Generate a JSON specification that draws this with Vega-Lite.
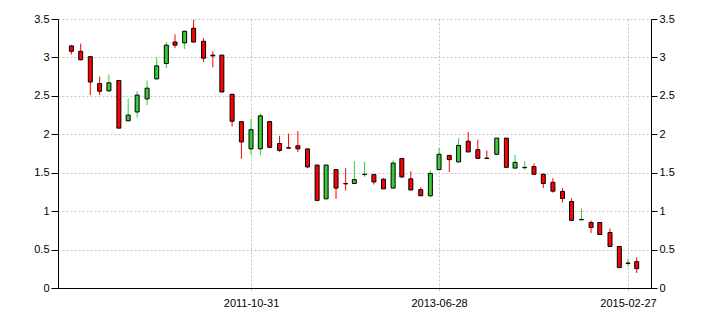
{
  "$schema": "https://vega.github.io/schema/vega-lite/v6.json",
  "width": 593,
  "height": 269,
  "autosize": {"type": "none"},
  "padding": {"left": 58, "top": 19, "right": 59, "bottom": 37},
  "background": "white",
  "config": {
    "view": {"stroke": null},
    "font": "Liberation Sans",
    "axis": {
      "labelFont": "Liberation Sans",
      "labelFontSize": 11,
      "labelColor": "#000",
      "domainColor": "#000",
      "domainWidth": 1,
      "tickColor": "#000",
      "tickWidth": 1,
      "gridColor": "#c4c4c4",
      "gridDash": [2, 2],
      "gridWidth": 1,
      "title": null
    }
  },
  "data": {
    "values": [
      {"date": "2010-03-31", "open": 3.15, "high": 3.16, "low": 3.04, "close": 3.08},
      {"date": "2010-04-30", "open": 3.08, "high": 3.18, "low": 2.96, "close": 2.97},
      {"date": "2010-05-31", "open": 3.01, "high": 3.01, "low": 2.51, "close": 2.68},
      {"date": "2010-06-30", "open": 2.66, "high": 2.75, "low": 2.51, "close": 2.56},
      {"date": "2010-07-30", "open": 2.565, "high": 2.78, "low": 2.55, "close": 2.67},
      {"date": "2010-08-31", "open": 2.70, "high": 2.70, "low": 2.08, "close": 2.08},
      {"date": "2010-09-30", "open": 2.175, "high": 2.465, "low": 2.175, "close": 2.25},
      {"date": "2010-10-29", "open": 2.29, "high": 2.56, "low": 2.22, "close": 2.51},
      {"date": "2010-11-30", "open": 2.46, "high": 2.70, "low": 2.38, "close": 2.60},
      {"date": "2010-12-31", "open": 2.72, "high": 3.0, "low": 2.72, "close": 2.89},
      {"date": "2011-01-31", "open": 2.92, "high": 3.20, "low": 2.86, "close": 3.16},
      {"date": "2011-02-28", "open": 3.20, "high": 3.30, "low": 3.12, "close": 3.16},
      {"date": "2011-03-31", "open": 3.19, "high": 3.35, "low": 3.11, "close": 3.34},
      {"date": "2011-04-29", "open": 3.38, "high": 3.49, "low": 3.20, "close": 3.20},
      {"date": "2011-05-31", "open": 3.21, "high": 3.25, "low": 2.94, "close": 2.99},
      {"date": "2011-06-30", "open": 3.03, "high": 3.08, "low": 2.87, "close": 3.02},
      {"date": "2011-07-29", "open": 3.03, "high": 3.03, "low": 2.55, "close": 2.55},
      {"date": "2011-08-31", "open": 2.52, "high": 2.52, "low": 2.10, "close": 2.17},
      {"date": "2011-09-30", "open": 2.165, "high": 2.165, "low": 1.68, "close": 1.90},
      {"date": "2011-10-31", "open": 1.81, "high": 2.20, "low": 1.73, "close": 2.06},
      {"date": "2011-11-30", "open": 1.81, "high": 2.27, "low": 1.73, "close": 2.24},
      {"date": "2011-12-30", "open": 2.165, "high": 2.165, "low": 1.826, "close": 1.83},
      {"date": "2012-01-31", "open": 1.88, "high": 1.98, "low": 1.77, "close": 1.79},
      {"date": "2012-02-29", "open": 1.825, "high": 2.01, "low": 1.82, "close": 1.82},
      {"date": "2012-03-30", "open": 1.85, "high": 2.04, "low": 1.77, "close": 1.81},
      {"date": "2012-04-30", "open": 1.81, "high": 1.81, "low": 1.56, "close": 1.575},
      {"date": "2012-05-31", "open": 1.60, "high": 1.60, "low": 1.14, "close": 1.14},
      {"date": "2012-06-29", "open": 1.16, "high": 1.60, "low": 1.16, "close": 1.60},
      {"date": "2012-07-31", "open": 1.54, "high": 1.54, "low": 1.16, "close": 1.30},
      {"date": "2012-08-31", "open": 1.36, "high": 1.56, "low": 1.27, "close": 1.355},
      {"date": "2012-09-28", "open": 1.36, "high": 1.65, "low": 1.36, "close": 1.41},
      {"date": "2012-10-31", "open": 1.475, "high": 1.64, "low": 1.445, "close": 1.48},
      {"date": "2012-11-30", "open": 1.475, "high": 1.475, "low": 1.345, "close": 1.38},
      {"date": "2012-12-31", "open": 1.415, "high": 1.43, "low": 1.29, "close": 1.29},
      {"date": "2013-01-31", "open": 1.30, "high": 1.66, "low": 1.30, "close": 1.625},
      {"date": "2013-02-28", "open": 1.685, "high": 1.685, "low": 1.43, "close": 1.445},
      {"date": "2013-03-29", "open": 1.42, "high": 1.52, "low": 1.275, "close": 1.275},
      {"date": "2013-04-30", "open": 1.28, "high": 1.31, "low": 1.197, "close": 1.20},
      {"date": "2013-05-31", "open": 1.20, "high": 1.53, "low": 1.18, "close": 1.49},
      {"date": "2013-06-28", "open": 1.54, "high": 1.82, "low": 1.54, "close": 1.74},
      {"date": "2013-07-31", "open": 1.725, "high": 1.725, "low": 1.51, "close": 1.67},
      {"date": "2013-08-30", "open": 1.64, "high": 1.95, "low": 1.64, "close": 1.855},
      {"date": "2013-09-30", "open": 1.91, "high": 2.03, "low": 1.77, "close": 1.77},
      {"date": "2013-10-31", "open": 1.80, "high": 1.93, "low": 1.685, "close": 1.686},
      {"date": "2013-11-29", "open": 1.69, "high": 1.79, "low": 1.68, "close": 1.685},
      {"date": "2013-12-31", "open": 1.74, "high": 1.95, "low": 1.74, "close": 1.95},
      {"date": "2014-01-31", "open": 1.95, "high": 1.95, "low": 1.57, "close": 1.57},
      {"date": "2014-02-28", "open": 1.56, "high": 1.73, "low": 1.557, "close": 1.635},
      {"date": "2014-03-31", "open": 1.565, "high": 1.65, "low": 1.54, "close": 1.57},
      {"date": "2014-04-30", "open": 1.58, "high": 1.62, "low": 1.48, "close": 1.48},
      {"date": "2014-05-30", "open": 1.48, "high": 1.48, "low": 1.30, "close": 1.36},
      {"date": "2014-06-30", "open": 1.375, "high": 1.43, "low": 1.24, "close": 1.26},
      {"date": "2014-07-31", "open": 1.257, "high": 1.30, "low": 1.11, "close": 1.165},
      {"date": "2014-08-29", "open": 1.126, "high": 1.165, "low": 0.878, "close": 0.88},
      {"date": "2014-09-30", "open": 0.888, "high": 1.035, "low": 0.878, "close": 0.892},
      {"date": "2014-10-31", "open": 0.852, "high": 0.878, "low": 0.717, "close": 0.787},
      {"date": "2014-11-28", "open": 0.852, "high": 0.852, "low": 0.696, "close": 0.696},
      {"date": "2014-12-31", "open": 0.722, "high": 0.774, "low": 0.539, "close": 0.54},
      {"date": "2015-01-30", "open": 0.54, "high": 0.54, "low": 0.265, "close": 0.265},
      {"date": "2015-02-27", "open": 0.32, "high": 0.38, "low": 0.28, "close": 0.325},
      {"date": "2015-03-27", "open": 0.343, "high": 0.40, "low": 0.196, "close": 0.252}
    ]
  },
  "layer": [
    {
      "mark": {"type": "rule", "strokeWidth": 1},
      "encoding": {
        "x": {
          "field": "date",
          "type": "temporal",
          "scale": {
            "type": "utc",
            "domain": [
              {"year": 2010, "month": 3, "date": 4, "utc": true},
              {"year": 2015, "month": 4, "date": 26, "utc": true}
            ]
          },
          "axis": {
            "orient": "bottom",
            "values": [
              {"year": 2011, "month": 10, "date": 31, "utc": true},
              {"year": 2013, "month": 6, "date": 28, "utc": true},
              {"year": 2015, "month": 2, "date": 27, "utc": true}
            ],
            "labelExpr": "utcFormat(datum.value, '%Y-%m-%d')",
            "grid": true,
            "tickSize": 4,
            "tickColor": "#b0b0b0",
            "tickDash": [2, 2],
            "labelPadding": 5,
            "labelFlush": false
          }
        },
        "y": {
          "field": "low",
          "type": "quantitative",
          "scale": {"domain": [0, 3.5], "nice": false, "zero": false},
          "axis": {
            "orient": "left",
            "values": [0, 0.5, 1, 1.5, 2, 2.5, 3, 3.5],
            "format": "~g",
            "grid": true,
            "tickSize": 7,
            "labelPadding": 2
          }
        },
        "y2": {"field": "high"},
        "color": {
          "condition": {"test": "datum.close >= datum.open", "value": "#32cd32"},
          "value": "#ff0000"
        }
      }
    },
    {
      "mark": {"type": "bar", "size": 4, "stroke": "#000", "strokeWidth": 1},
      "encoding": {
        "x": {"field": "date", "type": "temporal"},
        "y": {
          "field": "open",
          "type": "quantitative",
          "axis": {
            "orient": "right",
            "values": [0, 0.5, 1, 1.5, 2, 2.5, 3, 3.5],
            "format": "~g",
            "grid": false,
            "tickSize": 6,
            "labelPadding": 2
          }
        },
        "y2": {"field": "close"},
        "fill": {
          "condition": {"test": "datum.close >= datum.open", "value": "#32cd32"},
          "value": "#ff0000"
        }
      }
    }
  ],
  "resolve": {"axis": {"y": "independent"}}
}
